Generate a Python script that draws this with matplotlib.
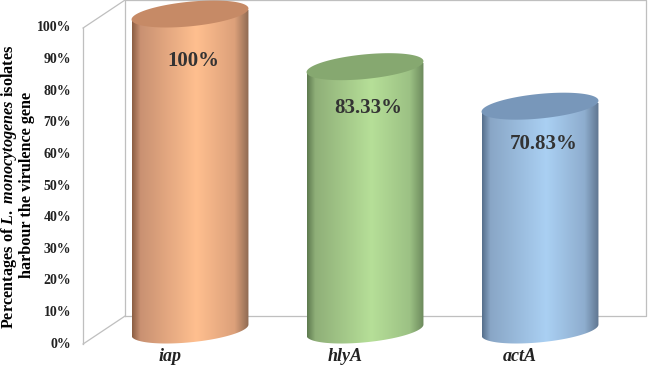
import matplotlib
matplotlib.use('Agg')
import matplotlib.pyplot as plt
import numpy as np
from matplotlib.colors import LinearSegmentedColormap
from matplotlib.patches import Polygon

plt.rcParams['font.family'] = 'Liberation Serif'
plt.rcParams['mathtext.fontset'] = 'custom'
plt.rcParams['mathtext.rm'] = 'Liberation Serif:bold'
plt.rcParams['mathtext.it'] = 'Liberation Serif:italic:bold'

genes = ['iap', 'hlyA', 'actA']
percent = [100, 83.33, 70.83]
value_labels = ['100%', '83.33%', '70.83%']
ticks = list(range(0, 101, 10))

# side shading (left edge -> right edge) and lid colour per cylinder
shades = [
    ['#8c5e43', '#c99172', '#ffbf8f', '#dca07a', '#8e6a52'],
    ['#5e7a4f', '#8faf78', '#b6df98', '#9cc184', '#6c8a5c'],
    ['#566f8c', '#89a6c6', '#aad0f3', '#8eadce', '#5f7690'],
]
stops = [0.0, 0.07, 0.55, 0.88, 1.0]
lids = ['#c68a66', '#86a870', '#7897ba']

fig = plt.figure(figsize=(6.48, 3.74), dpi=100)
ax = fig.add_axes([0, 0, 1, 1])
xlim = (-190 / 175, 458 / 175)
ylim = (-13.92, 104.43)

half_w = 0.334   # cylinder radius in category units
b = 3.9          # ellipse half height in %
tilt = 1.74      # perspective tilt of the ellipses
dx, dy = 0.12, 4.43   # half depth of the 3d box

# walls
back_x0, back_x1 = -0.371, 2.606
gc = '#bfbfbf'
ax.plot([back_x0, back_x1, back_x1, back_x0, back_x0],
        [dy, dy, 100 + dy, 100 + dy, dy], color=gc, lw=0.9)
fx = back_x0 - 2 * dx
ax.plot([fx, fx], [-dy, 100 - dy], color=gc, lw=0.9)
ax.plot([fx, back_x0], [100 - dy, 100 + dy], color=gc, lw=0.9)
ax.plot([fx, back_x0], [-dy, dy], color=gc, lw=0.9)

th = np.linspace(0, 2 * np.pi, 200)
for i, (g, v) in enumerate(zip(genes, percent)):
    cx = i
    # body: lower half of the bottom ellipse + straight sides
    tb = np.linspace(np.pi, 2 * np.pi, 100)
    bx = cx + half_w * np.cos(tb)
    by = b * np.sin(tb) + tilt * np.cos(tb)
    px = np.concatenate([bx, [cx + half_w, cx - half_w]])
    py = np.concatenate([by, [v + tilt, v - tilt]])
    body = Polygon(np.column_stack([px, py]), closed=True, fc='none', ec='none')
    ax.add_patch(body)
    cmap = LinearSegmentedColormap.from_list(g, list(zip(stops, shades[i])))
    grad = cmap(np.linspace(0, 1, 256))[np.newaxis, :, :]
    im = ax.imshow(grad, extent=(cx - half_w, cx + half_w, -b - tilt - 1, v + 1),
                   aspect='auto', interpolation='bilinear', zorder=2)
    im.set_clip_path(body)
    # lid
    lx = cx + half_w * np.cos(th)
    ly = v + b * np.sin(th) + tilt * np.cos(th)
    ax.add_patch(Polygon(np.column_stack([lx, ly]), closed=True,
                         fc=lids[i], ec='none', zorder=3))
    ax.text(cx + 0.02, 0.893 * v - 4.3, value_labels[i], ha='center', va='center',
            fontsize=15, fontweight='bold', color='#333333', zorder=4)
    ax.text(cx - 0.115, -8.5, g, ha='center', va='center', fontsize=13,
            fontweight='bold', fontstyle='italic', color='#222222')

for t in ticks:
    ax.text(-0.68, t - dy, f'{t}%', ha='right', va='center',
            fontsize=10, fontweight='bold', color='#222222')

fig.text(9 / 648, 1 - 187 / 374, r'Percentages of $\mathit{L.\ monocytogenes}$ isolates',
         rotation=90, ha='center', va='center', fontsize=11.7, fontweight='bold')
fig.text(27 / 648, 1 - 185 / 374, 'harbour the virulence gene',
         rotation=90, ha='center', va='center', fontsize=11.7, fontweight='bold')

ax.set_xlim(xlim)
ax.set_ylim(ylim)
ax.axis('off')
fig.savefig('out.png', dpi=100)
